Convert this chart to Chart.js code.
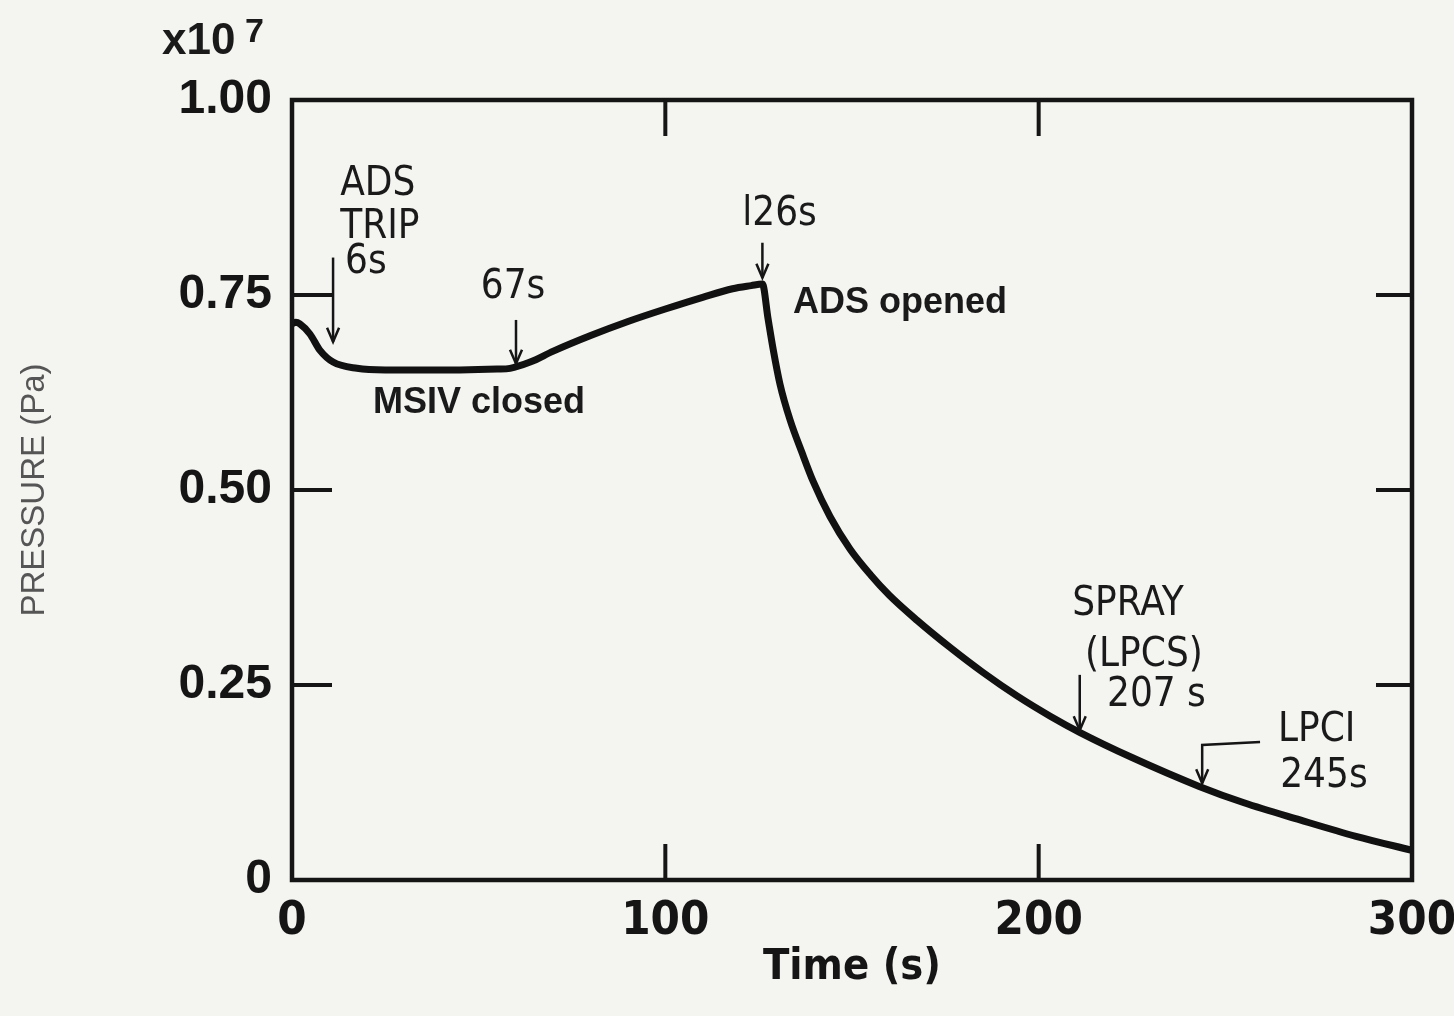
<!DOCTYPE html>
<html>
<head>
<meta charset="utf-8">
<script src="https://cdn.jsdelivr.net/npm/chart.js@4.4.1/dist/chart.umd.min.js"></script>
<style>
    html, body { margin: 0; padding: 0; background: #f4f4f1; }
    #wrap { width: 1454px; height: 1016px; position: relative; }
</style>
</head>
<body>
<div id="wrap"><canvas id="grafica"></canvas></div>
<script>

// curva de presion (tiempo s, presion x10^7 Pa)
const tiempos = [0, 1, 2.1, 4.8, 7.5, 11, 17.4, 25, 35, 45, 55, 58.4, 63.8, 70, 80, 90, 100, 110, 118, 123, 126,
    127.5, 128.9, 130.7, 133.4, 136.6, 139.6, 144.1, 149.5, 155, 160, 167.4, 176.3, 185.1, 194.2, 203.1,
    211.1, 225, 243, 255, 270, 285, 300];
const presion = [0.713, 0.715, 0.713, 0.700, 0.679, 0.664, 0.656, 0.654, 0.654, 0.654, 0.655, 0.656, 0.664,
    0.678, 0.698, 0.716, 0.732, 0.747, 0.758, 0.762, 0.764,
    0.720, 0.680, 0.636, 0.590, 0.548, 0.511, 0.466, 0.424, 0.391, 0.365, 0.333, 0.298, 0.266, 0.236, 0.210,
    0.189, 0.157, 0.120, 0.099, 0.077, 0.056, 0.038];

const ticksX = [0, 100, 200, 300];
const ticksY = [0, 0.25, 0.50, 0.75, 1.00];
const marcasX = [100, 200];
const marcasY = [0.25, 0.50, 0.75];

// textos de anotacion [texto, t, p, estilo, alineacion]
const textos = [
    ["ADS", 12.9, 0.891, "fino"],
    ["TRIP", 12.9, 0.836, "fino"],
    ["6s", 14.2, 0.792, "fino"],
    ["67s", 59.2, 0.759, "fino", "center"],
    ["l26s", 130.6, 0.853, "fino", "center"],
    ["ADS opened", 134.2, 0.740, "negrita"],
    ["MSIV closed", 21.7, 0.612, "negrita"],
    ["SPRAY", 209, 0.353, "fino"],
    ["(LPCS)", 212.4, 0.288, "fino"],
    ["207 s", 218.3, 0.237, "fino"],
    ["LPCI", 264.1, 0.192, "fino"],
    ["245s", 264.7, 0.132, "fino"]
];

// flechas [t, p desde, p hasta]
const flechas = [
    [11, 0.798, 0.690],
    [60, 0.718, 0.662],
    [126, 0.817, 0.772],
    [211, 0.263, 0.192]
];
// flecha con codo de LPCI [t inicio, t codo, p linea, p punta]
const flechaLPCI = [259.3, 243.8, 0.177, 0.124];

const fuenteFina = "'Liberation Sans Narrow', 'DejaVu Sans Condensed', 'Liberation Sans', sans-serif";
const fuenteNegrita = "'Liberation Sans', Arial, sans-serif";

const fondo = {
    id: "fondo",
    beforeDraw(chart) {
        const ctx = chart.ctx;
        ctx.save();
        ctx.fillStyle = "#f4f4f1";
        ctx.fillRect(0, 0, chart.width, chart.height);
        ctx.restore();
    }
};

function punta(ctx, x, y) {
    ctx.beginPath();
    ctx.moveTo(x - 6, y - 14);
    ctx.lineTo(x, y);
    ctx.lineTo(x + 6, y - 14);
    ctx.stroke();
}

const marco = {
    id: "marco",
    afterDatasetsDraw(chart) {
        const ctx = chart.ctx;
        const a = chart.chartArea;
        const sx = chart.scales.x;
        const sy = chart.scales.y;

        ctx.save();
        ctx.strokeStyle = "#151515";
        ctx.lineWidth = 4.5;
        ctx.strokeRect(a.left, a.top, a.right - a.left, a.bottom - a.top);

        // marcas hacia adentro
        ctx.lineWidth = 4;
        ctx.beginPath();
        marcasX.forEach(v => {
            const x = sx.getPixelForValue(v);
            ctx.moveTo(x, a.bottom);
            ctx.lineTo(x, a.bottom - 36);
            ctx.moveTo(x, a.top);
            ctx.lineTo(x, a.top + 36);
        });
        marcasY.forEach(v => {
            const y = sy.getPixelForValue(v);
            ctx.moveTo(a.left, y);
            ctx.lineTo(a.left + 40, y);
            ctx.moveTo(a.right, y);
            ctx.lineTo(a.right - 36, y);
        });
        ctx.stroke();

        // flechas
        ctx.lineWidth = 2.5;
        flechas.forEach(f => {
            const x = sx.getPixelForValue(f[0]);
            const y1 = sy.getPixelForValue(f[1]);
            const y2 = sy.getPixelForValue(f[2]);
            ctx.beginPath();
            ctx.moveTo(x, y1);
            ctx.lineTo(x, y2);
            ctx.stroke();
            punta(ctx, x, y2);
        });

        const xa = sx.getPixelForValue(flechaLPCI[0]);
        const xb = sx.getPixelForValue(flechaLPCI[1]);
        const ya = sy.getPixelForValue(flechaLPCI[2]);
        const yb = sy.getPixelForValue(flechaLPCI[3]);
        ctx.beginPath();
        ctx.moveTo(xa, ya);
        ctx.lineTo(xb, ya + 3);
        ctx.lineTo(xb, yb);
        ctx.stroke();
        punta(ctx, xb, yb);

        // textos
        ctx.fillStyle = "#1a1a1a";
        ctx.textBaseline = "middle";
        textos.forEach(t => {
            if (t[3] === "negrita") {
                ctx.font = "bold 36px " + fuenteNegrita;
            } else {
                ctx.font = "40px " + fuenteFina;
            }
            ctx.textAlign = t[4] || "left";
            ctx.fillText(t[0], sx.getPixelForValue(t[1]), sy.getPixelForValue(t[2]));
        });

        // multiplicador del eje
        ctx.textAlign = "left";
        ctx.textBaseline = "alphabetic";
        ctx.font = "bold 44px " + fuenteNegrita;
        ctx.fillText("x10", 162, 54);
        ctx.font = "bold 34px " + fuenteNegrita;
        ctx.fillText("7", 245, 42);
        ctx.restore();
    }
};

const ctx = document.getElementById("grafica").getContext("2d");

new Chart(ctx, {
    type: "line",
    data: {
        datasets: [
            {
                label: "Presion",
                data: tiempos.map((t, i) => ({ x: t, y: presion[i] })),
                borderColor: "#111111",
                borderWidth: 7,
                pointRadius: 0,
                fill: false,
                cubicInterpolationMode: "monotone"
            }
        ]
    },
    options: {
        responsive: true,
        maintainAspectRatio: false,
        animation: false,
        layout: {
            padding: { top: 100, right: 42, left: 0, bottom: 0 }
        },
        plugins: {
            legend: { display: false },
            tooltip: { enabled: false }
        },
        scales: {
            x: {
                type: "linear",
                min: 0,
                max: 300,
                afterFit(scale) {
                    scale.height = 136;
                    scale.paddingLeft = 0;
                    scale.paddingRight = 0;
                },
                afterBuildTicks(scale) { scale.ticks = ticksX.map(v => ({ value: v })); },
                grid: { display: false, drawTicks: false },
                border: { display: false },
                ticks: {
                    padding: 14,
                    color: "#151515",
                    font: { family: fuenteFina, size: 47, weight: "bold" }
                },
                title: {
                    display: true,
                    text: "Time (s)",
                    color: "#151515",
                    padding: { top: 0, bottom: 22 },
                    font: { family: fuenteFina, size: 43, weight: "bold" }
                }
            },
            y: {
                type: "linear",
                min: 0,
                max: 1,
                afterFit(scale) {
                    scale.width = 292;
                    scale.paddingTop = 0;
                    scale.paddingBottom = 0;
                },
                afterBuildTicks(scale) { scale.ticks = ticksY.map(v => ({ value: v })); },
                grid: { display: false, drawTicks: false },
                border: { display: false },
                ticks: {
                    padding: 20,
                    color: "#151515",
                    font: { family: fuenteNegrita, size: 48, weight: "bold" },
                    callback: v => v === 0 ? "0" : v.toFixed(2)
                },
                title: {
                    display: true,
                    text: "PRESSURE (Pa)",
                    color: "#555555",
                    padding: { top: 15, bottom: 0 },
                    font: { family: fuenteNegrita, size: 33, weight: "normal" }
                }
            }
        }
    },
    plugins: [fondo, marco]
});
</script>
</body>
</html>
